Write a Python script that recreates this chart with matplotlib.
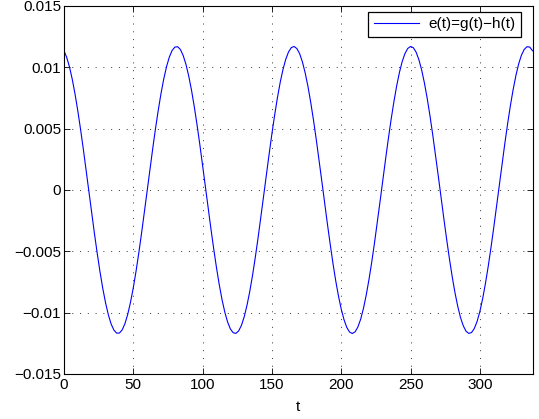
import numpy as np
import matplotlib
matplotlib.use("Agg")
import matplotlib.pyplot as plt

t_values = np.arange(0, 339, 2)
e_values = [
    0.01135, 0.01080, 0.01002, 0.00901, 0.00781, 0.00643, 0.00491, 0.00329, 0.00158, -0.00015,
    -0.00188, -0.00357, -0.00518, -0.00668, -0.00803, -0.00920, -0.01017, -0.01092, -0.01142, -0.01167,
    -0.01166, -0.01140, -0.01089, -0.01013, -0.00915, -0.00797, -0.00661, -0.00511, -0.00349, -0.00180,
    -0.00007, 0.00167, 0.00336, 0.00499, 0.00650, 0.00787, 0.00907, 0.01006, 0.01084, 0.01137,
    0.01165, 0.01168, 0.01145,
    0.01096, 0.01024, 0.00928, 0.00813, 0.00679, 0.00530, 0.00370, 0.00201, 0.00028, -0.00145,
    -0.00316, -0.00479, -0.00632, -0.00771, -0.00893, -0.00995, -0.01075, -0.01132, -0.01163, -0.01169,
    -0.01149, -0.01104, -0.01034, -0.00941, -0.00828, -0.00697, -0.00550, -0.00391, -0.00223, -0.00050,
    0.00124, 0.00294, 0.00459, 0.00613, 0.00754, 0.00879, 0.00983, 0.01066, 0.01126, 0.01161,
    0.01170, 0.01153,
    0.01111, 0.01044, 0.00954, 0.00844, 0.00714, 0.00569, 0.00411, 0.00244, 0.00072, -0.00102,
    -0.00274, -0.00439, -0.00595, -0.00738, -0.00864, -0.00971, -0.01057, -0.01120, -0.01158, -0.01170,
    -0.01156, -0.01117, -0.01054, -0.00967, -0.00858, -0.00731, -0.00588, -0.00431, -0.00265, -0.00094,
    0.00080, 0.00252, 0.00419, 0.00576, 0.00720, 0.00849, 0.00959, 0.01048, 0.01113, 0.01154,
    0.01170, 0.01160,
    0.01124, 0.01063, 0.00979, 0.00873, 0.00748, 0.00606, 0.00451, 0.00286, 0.00115, -0.00059,
    -0.00231, -0.00398, -0.00557, -0.00703, -0.00834, -0.00946, -0.01038, -0.01106, -0.01151, -0.01169,
    -0.01162, -0.01129, -0.01072, -0.00991, -0.00887, -0.00764, -0.00625, -0.00471, -0.00308, -0.00137,
    0.00037, 0.00210, 0.00378, 0.00538, 0.00686, 0.00818, 0.00933, 0.01028, 0.01099, 0.01146,
    0.01168, 0.01165, 0.01135,
]

x_ticks = [0, 50, 100, 150, 200, 250, 300]
y_ticks = [-0.015, -0.01, -0.005, 0, 0.005, 0.01, 0.015]
y_tick_labels = ["\u22120.015", "\u22120.01", "\u22120.005", "0", "0.005", "0.01", "0.015"]
legend_label = "e(t)=g(t)\u2212h(t)"
x_label = "t"

plt.rcParams['font.family'] = ['Liberation Sans', 'DejaVu Sans']
plt.rcParams['font.size'] = 11

fig = plt.figure(figsize=(5.39, 4.19), dpi=100)
ax = fig.add_axes([0.1187, 0.1074, 0.8693, 0.8783])

ax.plot(t_values, e_values, color=(0, 0, 1), lw=0.8, label=legend_label)

ax.set_xlim(0, 338)
ax.set_ylim(-0.015, 0.015)
ax.set_xticks(x_ticks)
ax.set_yticks(y_ticks)
ax.set_yticklabels(y_tick_labels)
ax.set_xlabel(x_label, labelpad=6)

ax.grid(True, linestyle=(0, (1, 7)), color='#333333', linewidth=0.7)
ax.tick_params(direction='in', top=True, right=True, length=4, width=0.6, colors='black', pad=2)
ax.tick_params(axis='x', pad=3)
for s in ax.spines.values():
    s.set_linewidth(0.8)

leg = ax.legend(loc='upper right', bbox_to_anchor=(0.9755, 0.9837), fancybox=False,
                framealpha=1, edgecolor='black', handlelength=3.0, borderaxespad=0.0,
                borderpad=0.35, handletextpad=0.6)
leg.get_frame().set_linewidth(0.9)

fig.savefig("out.png", dpi=100)
